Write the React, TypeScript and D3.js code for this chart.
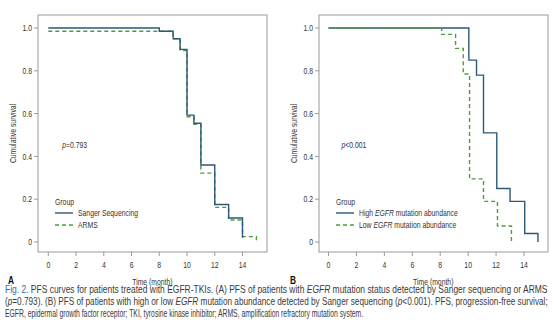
import React, { useLayoutEffect, useRef, useState } from "react";
import * as d3 from "d3";

const xTicks = [0, 2, 4, 6, 8, 10, 12, 14];
const yTicks = [0, 0.2, 0.4, 0.6, 0.8, 1.0];
const yTickLabels = ["0", "0.2", "0.4", "0.6", "0.8", "1.0"];

// Panel A
const sangerTime = [0, 8, 9, 9.5, 10, 10.5, 11, 12, 13, 14];
const sangerSurv = [1, 0.985, 0.95, 0.9, 0.593, 0.555, 0.36, 0.175, 0.112, 0.02];
const armsTime = [0, 9, 9.5, 10, 10.5, 11, 12, 13, 14, 15];
const armsSurv = [0.985, 0.95, 0.895, 0.585, 0.55, 0.322, 0.162, 0.103, 0.025, 0.005];

// Panel B
const highTime = [0, 10.05, 10.6, 11.1, 12.05, 13, 14.05, 15];
const highSurv = [1, 0.85, 0.78, 0.51, 0.25, 0.19, 0.04, 0];
const lowTime = [0, 8.1, 9.1, 9.65, 10.1, 11.1, 12.1, 13.1];
const lowSurv = [1, 0.97, 0.905, 0.785, 0.295, 0.19, 0.075, 0];

const FONT = "'Liberation Sans', Arial, sans-serif";
const SOLID = "#2c5a78";
const DASH = "#4f9a3a";
const FRAME = "#9a9a9a";
const TXT = "#333";
const SX = 0.76;

function T(props: { x: number; y: number; anchor?: string; rot?: number; size?: number; weight?: string; fill?: string; children: React.ReactNode }) {
  const { x, y, anchor = "start", rot = 0, size = 9, weight, fill = TXT, children } = props;
  return (
    <text transform={`translate(${x},${y}) rotate(${rot}) scale(${SX},1)`} textAnchor={anchor}
      fontSize={size} fontWeight={weight} fill={fill}>{children}</text>
  );
}

function FitText(props: { x: number; y: number; width: number; size: number; children: React.ReactNode }) {
  const ref = useRef<SVGTextElement>(null);
  const [s, setS] = useState(0.8);
  useLayoutEffect(() => {
    if (ref.current) {
      const w = ref.current.getComputedTextLength();
      if (w > 0) setS(props.width / w);
    }
  }, [props.width]);
  return (
    <text ref={ref} transform={`translate(${props.x},${props.y}) scale(${s},1)`} fontSize={props.size}>{props.children}</text>
  );
}

type Series = { t: number[]; s: number[]; color: string; dash?: string };

function Panel(props: {
  left: number; right: number; x0: number; x14: number;
  series: Series[]; pText: React.ReactNode; legend: React.ReactNode[]; letter: string;
}) {
  const { left, right, x0, x14, series, pText, legend, letter } = props;
  const top = 15, bottom = 252;
  const x = d3.scaleLinear().domain([0, 14]).range([x0, x14]);
  const y = d3.scaleLinear().domain([0, 1]).range([242, 28]);
  const line = d3.line<[number, number]>().x(d => x(d[0])).y(d => y(d[1])).curve(d3.curveStepAfter);
  const mid = (x0 + x14) / 2 + 7;
  return (
    <g fontFamily={FONT}>
      <rect x={left} y={top} width={right - left} height={bottom - top} fill="none" stroke={FRAME} strokeWidth={1} />
      {yTicks.map((v, i) => (
        <g key={i}>
          <line x1={left - 4} x2={left} y1={y(v)} y2={y(v)} stroke={FRAME} />
          <T x={left - 6} y={y(v) + 3.2} anchor="end">{yTickLabels[i]}</T>
        </g>
      ))}
      {xTicks.map((v, i) => (
        <g key={i}>
          <line x1={x(v)} x2={x(v)} y1={bottom} y2={bottom + 4} stroke={FRAME} />
          <T x={x(v)} y={bottom + 16} anchor="middle">{v}</T>
        </g>
      ))}
      <T x={left - 22} y={(top + bottom) / 2} anchor="middle" rot={-90}>Cumulative survival</T>
      <T x={mid} y={285} anchor="middle">Time (month)</T>
      <T x={letter === "A" ? 8 : 290} y={284} size={11} weight="bold" fill="#111">{letter}</T>
      {series.map((sr, i) => (
        <path key={i} d={line(sr.t.map((t, j) => [t, sr.s[j]] as [number, number])) || ""} fill="none"
          stroke={sr.color} strokeWidth={1.4} strokeDasharray={sr.dash} />
      ))}
      <T x={x(1) + (letter === "A" ? 0 : -1)} y={148}>{pText}</T>
      <T x={left + 17} y={205}>Group</T>
      <line x1={left + 17} x2={left + 35} y1={213} y2={213} stroke={SOLID} strokeWidth={1.4} />
      <line x1={left + 17} x2={left + 35} y1={225} y2={225} stroke={DASH} strokeWidth={1.4} strokeDasharray="4,3" />
      <T x={left + 40} y={216}>{legend[0]}</T>
      <T x={left + 40} y={228}>{legend[1]}</T>
    </g>
  );
}

export default function App() {
  return (
    <svg width={554} height={323} style={{ position: "absolute", left: 0, top: 0, background: "#fff" }}>
      <rect width={554} height={323} fill="#fff" />
      <Panel left={38} right={267} x0={48.3} x14={242.5} letter="A"
        series={[
          { t: armsTime, s: armsSurv, color: DASH, dash: "4,3" },
          { t: sangerTime, s: sangerSurv, color: SOLID },
        ]}
        pText={<><tspan fontStyle="italic">p</tspan>=0.793</>}
        legend={["Sanger Sequencing", "ARMS"]} />
      <Panel left={319} right={548} x0={328.5} x14={524} letter="B"
        series={[
          { t: highTime, s: highSurv, color: SOLID },
          { t: lowTime, s: lowSurv, color: DASH, dash: "4,3" },
        ]}
        pText={<><tspan fontStyle="italic">p</tspan>&lt;0.001</>}
        legend={[
          <><tspan>High </tspan><tspan fontStyle="italic">EGFR</tspan><tspan> mutation abundance</tspan></>,
          <><tspan>Low </tspan><tspan fontStyle="italic">EGFR</tspan><tspan> mutation abundance</tspan></>,
        ]} />
      <g fontFamily={FONT} fill="#3a3a3a">
        <FitText x={5} y={293} width={543} size={10}>
          <tspan fill="#1f6fb2">Fig. 2.</tspan> PFS curves for patients treated with EGFR-TKIs. (A) PFS of patients with <tspan fontStyle="italic">EGFR</tspan> mutation status detected by Sanger sequencing or ARMS
        </FitText>
        <FitText x={5} y={305} width={543} size={10}>
          (<tspan fontStyle="italic">p</tspan>=0.793). (B) PFS of patients with high or low <tspan fontStyle="italic">EGFR</tspan> mutation abundance detected by Sanger sequencing (<tspan fontStyle="italic">p</tspan>&lt;0.001). PFS, progression-free survival;
        </FitText>
        <FitText x={5} y={317} width={358} size={10}>
          EGFR, epidermal growth factor receptor; TKI, tyrosine kinase inhibitor; ARMS, amplification refractory mutation system.
        </FitText>
      </g>
    </svg>
  );
}
